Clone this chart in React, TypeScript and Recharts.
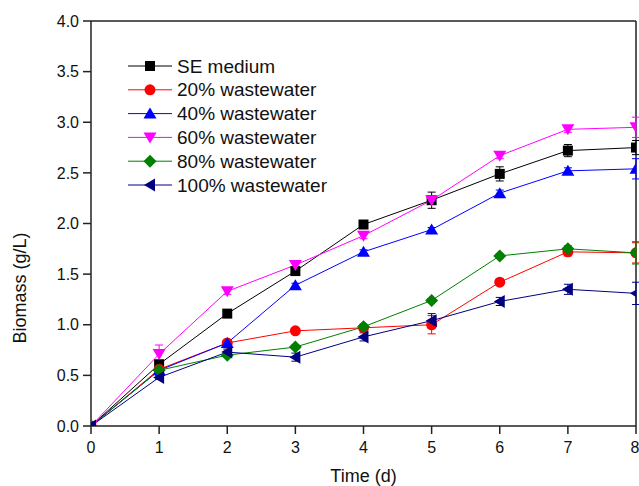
import React from "react";
import { LineChart, Line, XAxis, YAxis, ErrorBar, ReferenceLine } from "recharts";

const days = [0, 1, 2, 3, 4, 5, 6, 7, 8];

const seMedium = [0, 0.61, 1.11, 1.53, 1.99, 2.23, 2.49, 2.72, 2.75];
const ww20 = [0, 0.56, 0.82, 0.94, 0.97, 1.0, 1.42, 1.72, 1.71];
const ww40 = [0, 0.55, 0.82, 1.39, 1.72, 1.94, 2.3, 2.52, 2.54];
const ww60 = [0, 0.71, 1.33, 1.59, 1.88, 2.23, 2.67, 2.93, 2.95];
const ww80 = [0, 0.55, 0.7, 0.78, 0.98, 1.24, 1.68, 1.75, 1.71];
const ww100 = [0, 0.48, 0.73, 0.68, 0.88, 1.04, 1.23, 1.35, 1.31];

const seErr = [0, 0.03, 0.02, 0.03, 0.03, 0.08, 0.07, 0.06, 0.07];
const ww20Err = [0, 0.03, 0.02, 0.02, 0.02, 0.09, 0.03, 0.04, 0.1];
const ww40Err = [0, 0.02, 0.02, 0.02, 0.02, 0.02, 0.03, 0.03, 0.1];
const ww60Err = [0, 0.09, 0.03, 0.03, 0.03, 0.03, 0.03, 0.03, 0.1];
const ww80Err = [0, 0.03, 0.02, 0.02, 0.02, 0.02, 0.02, 0.03, 0.11];
const ww100Err = [0, 0.02, 0.03, 0.04, 0.04, 0.07, 0.04, 0.05, 0.11];

const yTicks = [0, 0.5, 1, 1.5, 2, 2.5, 3, 3.5, 4];

type Shape = "square" | "circle" | "up" | "down" | "diamond" | "left";

const series: { key: string; name: string; color: string; shape: Shape; values: number[]; err: number[] }[] = [
  { key: "se", name: "SE medium", color: "#000000", shape: "square", values: seMedium, err: seErr },
  { key: "w20", name: "20% wastewater", color: "#ff0000", shape: "circle", values: ww20, err: ww20Err },
  { key: "w40", name: "40% wastewater", color: "#0000ff", shape: "up", values: ww40, err: ww40Err },
  { key: "w60", name: "60% wastewater", color: "#ff00ff", shape: "down", values: ww60, err: ww60Err },
  { key: "w80", name: "80% wastewater", color: "#008000", shape: "diamond", values: ww80, err: ww80Err },
  { key: "w100", name: "100% wastewater", color: "#000080", shape: "left", values: ww100, err: ww100Err },
];

const data = days.map((d, i) => {
  const row: Record<string, number> = { t: d };
  series.forEach((s) => {
    row[s.key] = s.values[i];
    row[s.key + "Err"] = s.err[i];
  });
  return row;
});

const FONT = "'Liberation Sans', Arial, sans-serif";

// chart layout (margins + axis sizes) -> plot box used to clip the markers
const M = { top: 21, right: 3, left: 30 };
const W = 639;
const H = 486;
const Y_W = 61;
const X_H = 60;
const plot = { x: M.left + Y_W, y: M.top, w: W - M.left - Y_W - M.right, h: H - M.top - X_H };

function Marker({ shape, color, cx, cy }: { shape: Shape; color: string; cx: number; cy: number }) {
  if (cx == null || cy == null) return null;
  switch (shape) {
    case "square":
      return <rect x={cx - 5} y={cy - 5} width={10} height={10} fill={color} />;
    case "circle":
      return <circle cx={cx} cy={cy} r={5.5} fill={color} />;
    case "up":
      return <polygon points={`${cx},${cy - 6} ${cx + 6.5},${cy + 5} ${cx - 6.5},${cy + 5}`} fill={color} />;
    case "down":
      return <polygon points={`${cx},${cy + 6} ${cx + 6.5},${cy - 5} ${cx - 6.5},${cy - 5}`} fill={color} />;
    case "diamond":
      return <polygon points={`${cx},${cy - 6.5} ${cx + 6.5},${cy} ${cx},${cy + 6.5} ${cx - 6.5},${cy}`} fill={color} />;
    case "left":
      return <polygon points={`${cx - 6},${cy} ${cx + 5},${cy - 6.5} ${cx + 5},${cy + 6.5}`} fill={color} />;
  }
  return null;
}

function LegendBox() {
  return (
    <svg width={220} height={150} style={{ position: "absolute", left: 124, top: 54 }}>
      {series.map((s, i) => {
        const y = 12 + i * 23.8;
        return (
          <g key={s.key}>
            <line x1={4} x2={48} y1={y} y2={y} stroke={s.color} strokeWidth={1} />
            <Marker shape={s.shape} color={s.color} cx={26} cy={y} />
            <text x={53} y={y + 6.5} fontSize={19} fontFamily={FONT} fill="#111">
              {s.name}
            </text>
          </g>
        );
      })}
    </svg>
  );
}

export default function App() {
  return (
    <div style={{ position: "absolute", left: 0, top: 0, width: W, height: H, background: "#fff" }}>
      <svg width={0} height={0} style={{ position: "absolute" }}>
        <defs>
          <clipPath id="plotClip" clipPathUnits="userSpaceOnUse">
            <rect x={plot.x} y={plot.y} width={plot.w} height={plot.h} />
          </clipPath>
        </defs>
      </svg>
      <LineChart width={W} height={H} data={data} margin={{ ...M, bottom: 0 }}>
        <XAxis
          dataKey="t"
          type="number"
          domain={[0, 8]}
          ticks={days}
          allowDataOverflow
          height={X_H}
          tickSize={8}
          tickMargin={8}
          stroke="#222"
          strokeWidth={1.5}
          tick={{ fill: "#111", fontSize: 16, fontFamily: FONT }}
          label={{ value: "Time (d)", position: "insideBottom", offset: 4, fill: "#111", fontSize: 18, fontFamily: FONT }}
        />
        <YAxis
          type="number"
          domain={[0, 4]}
          ticks={yTicks}
          allowDataOverflow
          width={Y_W}
          tickSize={8}
          tickMargin={4}
          stroke="#222"
          strokeWidth={1.5}
          tickFormatter={(v: number) => v.toFixed(1)}
          tick={{ fill: "#111", fontSize: 16, fontFamily: FONT }}
          label={{ value: "Biomass (g/L)", angle: -90, position: "insideLeft", dx: -15, dy: 120, fill: "#111", fontSize: 18, fontFamily: FONT }}
        />
        <ReferenceLine y={4} stroke="#222" strokeWidth={1.5} />
        <ReferenceLine x={8} stroke="#222" strokeWidth={1.5} />
        {series.map((s) => (
          <Line
            key={s.key}
            dataKey={s.key}
            name={s.name}
            stroke={s.color}
            strokeWidth={1}
            isAnimationActive={false}
            dot={(p: any) => (
              <g key={`${s.key}-${p.index}`} clipPath="url(#plotClip)">
                <Marker shape={s.shape} color={s.color} cx={p.cx} cy={p.cy} />
              </g>
            )}
            activeDot={false}
          >
            <ErrorBar dataKey={s.key + "Err"} width={4} stroke={s.color} strokeWidth={1} direction="y" />
          </Line>
        ))}
      </LineChart>
      <LegendBox />
    </div>
  );
}
